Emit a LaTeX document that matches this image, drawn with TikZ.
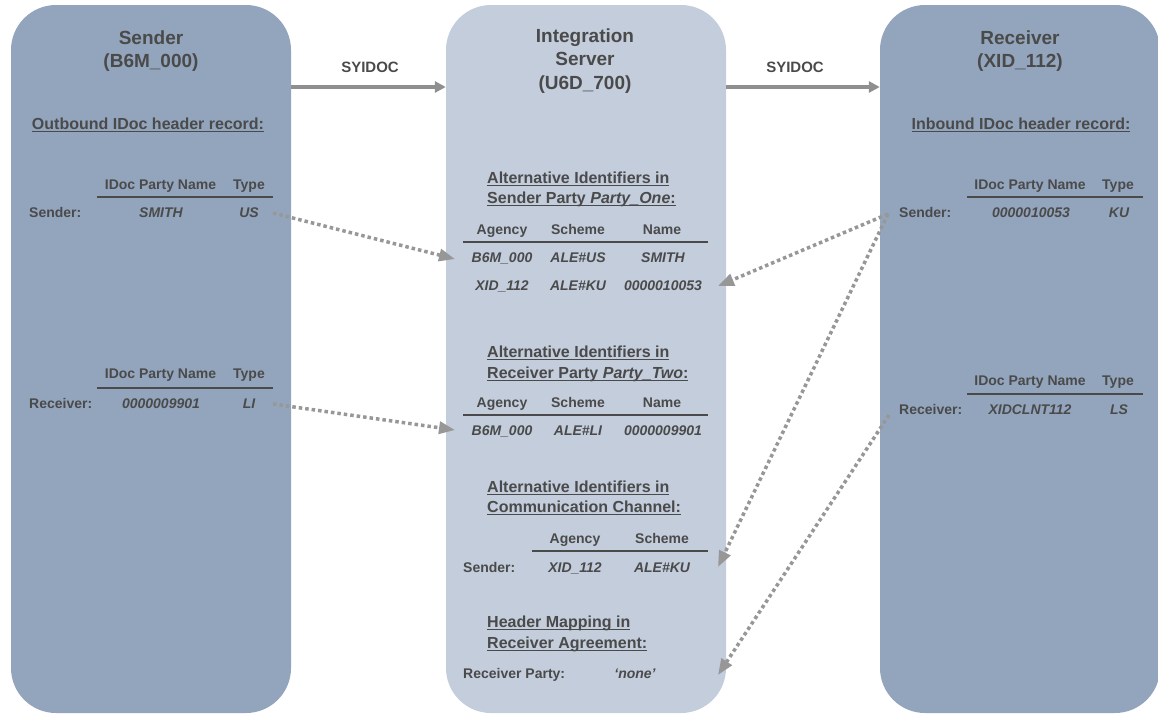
\documentclass[tikz,border=0pt]{standalone}
\usepackage{fontspec}
\setmainfont{Liberation Sans}
\usetikzlibrary{arrows.meta}
\newcommand{\myul}[1]{\begingroup\setbox0\hbox{#1}\rlap{\rule[-3pt]{\wd0}{1.4pt}}\box0\endgroup}
\definecolor{boxdark}{HTML}{93A5BD}
\definecolor{boxlight}{HTML}{C3CDDC}
\definecolor{txt}{HTML}{4A4A4A}
\definecolor{arr}{HTML}{8F8F8F}
\definecolor{dotc}{HTML}{979797}
\tikzset{
  bigbox/.style={rounded corners=45pt, minimum width=280pt, minimum height=708pt, inner sep=0pt, draw=none},
  ttl/.style={font=\fontsize{19}{22}\selectfont\bfseries, text=txt, anchor=base, inner sep=0pt},
  hd/.style={font=\fontsize{16}{19}\selectfont\bfseries, text=txt, anchor=base west, inner sep=0pt},
  hdc/.style={hd, anchor=base},
  th/.style={font=\fontsize{14}{16}\selectfont\bfseries, text=txt, anchor=base, inner sep=0pt},
  thw/.style={th, anchor=base west},
  tv/.style={font=\fontsize{14}{16}\selectfont\bfseries\itshape, text=txt, anchor=base, inner sep=0pt},
  lbl/.style={font=\fontsize{15}{18}\selectfont\bfseries, text=txt, anchor=base, inner sep=0pt},
  rule/.style={draw=txt, line width=2pt},
  flow/.style={draw=arr, line width=3.5pt, -{Triangle[length=11pt,width=11pt]}},
  link/.style={draw=dotc, line width=3.5pt, dash pattern=on 3.5pt off 3pt, -{Triangle[length=16pt,width=12pt]}}
}
\begin{document}
\begin{tikzpicture}[x=1pt,y=-1pt]
\useasboundingbox (0,0) rectangle (1158,715);
% boxes
\node[bigbox, fill=boxdark] (snd) at (151,359) {};
\node[bigbox, fill=boxlight] (srv) at (586,359) {};
\node[bigbox, fill=boxdark] (rcv) at (1020,359) {};

% titles
\node[ttl] (sndT1) at (151,44) {Sender};
\node[ttl] (sndT2) at (151,67) {(B6M\_000)};
\node[ttl] (srvT1) at (585,42) {Integration};
\node[ttl] (srvT2) at (585,65) {Server};
\node[ttl] (srvT3) at (585,89) {(U6D\_700)};
\node[ttl] (rcvT1) at (1020,44) {Receiver};
\node[ttl] (rcvT2) at (1020,67) {(XID\_112)};

% SYIDOC flows
\coordinate (fy) at (0,87);
\draw[flow] (snd.east |- fy) -- (srv.west |- fy);
\draw[flow] (srv.east |- fy) -- (rcv.west |- fy);
\node[lbl] (lab1) at (370,72) {SYIDOC};
\node[lbl] (lab2) at (795,72) {SYIDOC};

% ---------- Left box ----------
\node[hdc] (outh) at (148,129) {\myul{Outbound IDoc header record:}};
\node[th] (l1h1) at (160.5,189) {IDoc Party Name};
\node[th] (l1h2) at (249,189) {Type};
\draw[rule] (97,197) -- (273,197);
\node[thw] (l1r0) at (29,217) {Sender:};
\node[tv] (l1r1) at (161,217) {SMITH};
\node[tv] (l1r2) at (249,217) {US};

\node[th] (l2h1) at (160.5,378) {IDoc Party Name};
\node[th] (l2h2) at (249,378) {Type};
\draw[rule] (97,388) -- (273,388);
\node[thw] (l2r0) at (29,408) {Receiver:};
\node[tv] (l2r1) at (161,408) {0000009901};
\node[tv] (l2r2) at (249,408) {LI};

% ---------- Middle box ----------
\node[hd] (m1a) at (487,183) {\myul{Alternative Identifiers in}};
\node[hd] (m1b) at (487,203) {\myul{Sender Party \textit{Party\_One}:}};
\node[th] (m1h1) at (502,234) {Agency};
\node[th] (m1h2) at (578,234) {Scheme};
\node[th] (m1h3) at (662,234) {Name};
\draw[rule] (463,242) -- (708,242);
\node[tv] (m1r1a) at (502,262) {B6M\_000};
\node[tv] (m1r1b) at (578,262) {ALE\#US};
\node[tv] (m1r1c) at (663,262) {SMITH};
\node[tv] (m1r2a) at (502,290) {XID\_112};
\node[tv] (m1r2b) at (578,290) {ALE\#KU};
\node[tv] (m1r2c) at (663,290) {0000010053};

\node[hd] (m2a) at (487,357) {\myul{Alternative Identifiers in}};
\node[hd] (m2b) at (487,378) {\myul{Receiver Party \textit{Party\_Two}:}};
\node[th] (m2h1) at (502,407) {Agency};
\node[th] (m2h2) at (578,407) {Scheme};
\node[th] (m2h3) at (662,407) {Name};
\draw[rule] (463,415) -- (708,415);
\node[tv] (m2r1a) at (502,435) {B6M\_000};
\node[tv] (m2r1b) at (578,435) {ALE\#LI};
\node[tv] (m2r1c) at (663,435) {0000009901};

\node[hd] (m3a) at (487,492) {\myul{Alternative Identifiers in}};
\node[hd] (m3b) at (487,512) {\myul{Communication Channel:}};
\node[th] (m3h1) at (575,543) {Agency};
\node[th] (m3h2) at (662,543) {Scheme};
\draw[rule] (532,551) -- (708,551);
\node[thw] (m3r0) at (463,572) {Sender:};
\node[tv] (m3r1) at (575,572) {XID\_112};
\node[tv] (m3r2) at (662,572) {ALE\#KU};

\node[hd] (m4a) at (487,627) {\myul{Header Mapping in}};
\node[hd] (m4b) at (487,648) {\myul{Receiver Agreement:}};
\node[thw] (m4r0) at (463,678) {Receiver Party:};
\node[tv] (m4r1) at (635,678) {‘none’};

% ---------- Right box ----------
\node[hdc] (inh) at (1021,129) {\myul{Inbound IDoc header record:}};
\node[th] (r1h1) at (1030,189) {IDoc Party Name};
\node[th] (r1h2) at (1118,189) {Type};
\draw[rule] (967,197) -- (1143,197);
\node[thw] (r1r0) at (899,217) {Sender:};
\node[tv] (r1r1) at (1031,217) {0000010053};
\node[tv] (r1r2) at (1119,217) {KU};

\node[th] (r2h1) at (1030,385) {IDoc Party Name};
\node[th] (r2h2) at (1118,385) {Type};
\draw[rule] (967,394) -- (1143,394);
\node[thw] (r2r0) at (899,414) {Receiver:};
\node[tv] (r2r1) at (1030,414) {XIDCLNT112};
\node[tv] (r2r2) at (1119,414) {LS};

% ---------- dotted links ----------
\coordinate (pUS) at (273,213);
\coordinate (pLI) at (273,404);
\coordinate (pKU) at (888,214);
\coordinate (pLS) at (889,415);
\coordinate (tSMITH) at (455,259);
\coordinate (tLI) at (455,430);
\coordinate (tKU) at (718,286);
\coordinate (tCC) at (718,567);
\coordinate (tNone) at (718,675);
\draw[link] (pUS) -- (tSMITH);
\draw[link] (pLI) -- (tLI);
\draw[link] (pKU) -- (tKU);
\draw[link] (pKU) -- (tCC);
\draw[link] (pLS) -- (tNone);
\end{tikzpicture}
\end{document}
